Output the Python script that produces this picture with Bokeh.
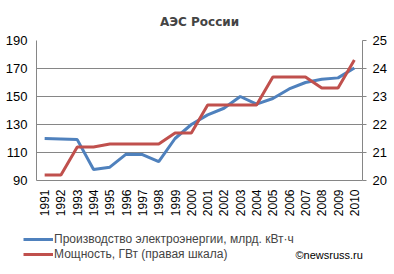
from bokeh.plotting import figure
from bokeh.models import Range1d, LinearAxis, Legend, LegendItem, Label, FixedTicker, FactorRange
from bokeh.embed import file_html
from bokeh.resources import INLINE
import math

years = [str(y) for y in range(1991, 2011)]
production = [120.0, 119.6, 119.2, 97.8, 99.5, 108.8, 108.5, 103.5, 120.0, 130.0,
              136.9, 141.6, 150.0, 144.6, 148.6, 155.4, 160.0, 162.3, 163.3, 170.4]
capacity = [20.2, 20.2, 21.2, 21.2, 21.3, 21.3, 21.3, 21.3, 21.7, 21.7,
            22.7, 22.7, 22.7, 22.7, 23.7, 23.7, 23.7, 23.3, 23.3, 24.3]
left_ticks = [90, 110, 130, 150, 170, 190]
right_ticks = [20, 21, 22, 23, 24, 25]
title_text = "АЭС России"
label_prod = "Производство электроэнергии, млрд. кВт·ч"
label_cap = "Мощность, ГВт (правая шкала)"
credit = "©newsruss.ru"

FONT = "Liberation Sans"
BLUE = "#4F81BD"
RED = "#C0504D"
GRID = "#868686"

p = figure(width=394, height=219, x_range=FactorRange(*years), y_range=Range1d(90, 190),
           output_backend="svg", toolbar_location=None,
           min_border_left=36, min_border_right=32, min_border_top=40, min_border_bottom=36)
p.outline_line_color = None
p.extra_y_ranges = {"right": Range1d(20, 25)}

p.title.text = title_text
p.title.align = "center"
p.title.text_font = "DejaVu Sans"
p.title.text_font_style = "bold"
p.title.text_font_size = "12px"
p.title.text_line_height = 0.8
p.title.offset = -5
p.title.standoff = 24

r1 = p.line(years, production, line_color=BLUE, line_width=3)
r2 = p.line(years, capacity, line_color=RED, line_width=3, y_range_name="right")

ya = p.yaxis[0]
ya.ticker = FixedTicker(ticks=left_ticks)
ya.major_tick_line_color = None
ya.major_tick_in = 0
ya.major_tick_out = 0
ya.minor_tick_line_color = None
ya.axis_line_color = GRID
ya.major_label_text_font = FONT
ya.major_label_text_font_size = "13px"
ya.major_label_text_color = "black"
ya.major_label_standoff = 9

ax_r = LinearAxis(y_range_name="right", ticker=FixedTicker(ticks=right_ticks))
ax_r.axis_line_color = GRID
ax_r.major_tick_line_color = GRID
ax_r.major_tick_in = 0
ax_r.major_tick_out = 4
ax_r.minor_tick_line_color = None
ax_r.major_label_text_font = FONT
ax_r.major_label_text_font_size = "13px"
ax_r.major_label_text_color = "black"
ax_r.major_label_standoff = 6
p.add_layout(ax_r, "right")

xa = p.xaxis[0]
xa.major_label_orientation = math.pi / 2
xa.major_tick_line_color = None
xa.major_tick_in = 0
xa.major_tick_out = 0
xa.axis_line_color = GRID
xa.major_label_text_font = FONT
xa.major_label_text_font_size = "12px"
xa.major_label_text_color = "black"
xa.major_label_standoff = 9

p.xgrid.grid_line_color = None
p.ygrid.grid_line_color = GRID
p.ygrid.ticker = FixedTicker(ticks=left_ticks)

# legend panel (separate root, no frame alignment)
p2 = figure(width=394, height=55, x_range=Range1d(0, 394), y_range=Range1d(0, 55),
            output_backend="svg", toolbar_location=None,
            x_axis_location=None, y_axis_location=None,
            min_border_left=0, min_border_right=0, min_border_top=0, min_border_bottom=0)
p2.grid.visible = False
p2.outline_line_color = None
d1 = p2.line([-20, -10], [-20, -20], line_color=BLUE, line_width=3)
d2 = p2.line([-20, -10], [-30, -30], line_color=RED, line_width=3)

legend = Legend(items=[LegendItem(label=label_prod, renderers=[d1]),
                       LegendItem(label=label_cap, renderers=[d2])],
                location=(23, 13), orientation="vertical",
                glyph_width=30, glyph_height=10, label_standoff=1, spacing=0,
                padding=0, margin=0, border_line_color=None, background_fill_alpha=0,
                label_text_font=FONT, label_text_font_size="12px", label_height=15)
p2.add_layout(legend, "center")

p2.add_layout(Label(x=295, y=20, x_units="screen", y_units="screen", text=credit,
                    text_font=FONT, text_font_size="11px", text_color="black",
                    text_baseline="middle"))

open("out.html", "w").write(file_html([p, p2], INLINE))
